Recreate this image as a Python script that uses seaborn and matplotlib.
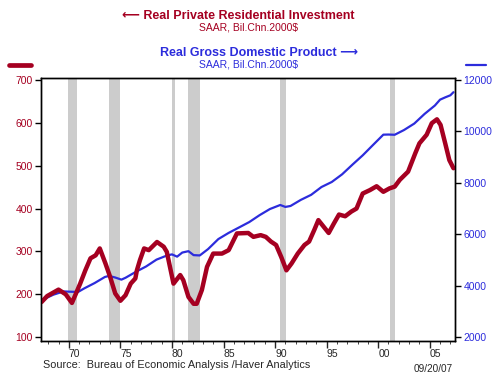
import numpy as np
import pandas as pd
import matplotlib
matplotlib.use("Agg")
import matplotlib.pyplot as plt
import seaborn as sns
from matplotlib.lines import Line2D

# Real private residential investment (left axis)
res_year = [1967.35, 1967.9, 1969.0, 1969.7, 1970.3, 1971.1, 1971.6, 1972.1, 1972.6, 1973.0,
            1973.55, 1974.0, 1974.5, 1975.0, 1975.5, 1976.0, 1976.45, 1976.6, 1976.9, 1977.3,
            1977.75, 1978.55, 1979.2, 1979.5, 1980.15, 1980.8, 1981.1, 1981.6, 1982.1, 1982.4,
            1982.9, 1983.4, 1984.0, 1984.85, 1985.5, 1986.3, 1987.4, 1987.9, 1988.6, 1989.1,
            1989.6, 1990.1, 1990.6, 1991.1, 1991.6, 1992.2, 1992.85, 1993.3, 1993.8, 1994.2,
            1994.7, 1995.2, 1995.7, 1996.2, 1996.8, 1997.4, 1997.9, 1998.5, 1999.2, 1999.85,
            2000.5, 2001.1, 2001.6, 2002.1, 2002.9, 2003.6, 2004.0, 2004.7, 2005.2, 2005.7,
            2006.05, 2006.5, 2006.9, 2007.3]
res_value = [182, 196, 211, 200, 180, 225, 256, 284, 291, 307,
             272, 241, 202, 185, 198, 225, 237, 256, 280, 307,
             303, 322, 311, 299, 225, 245, 233, 194, 178, 178,
             210, 264, 295, 295, 303, 342, 343, 334, 338, 334,
             323, 315, 287, 256, 272, 295, 315, 323, 350, 373,
             358, 343, 365, 386, 382, 393, 400, 435, 443, 452,
             439, 447, 451, 467, 486, 529, 552, 572, 599, 608,
             595, 552, 513, 494]

# Real GDP (right axis)
gdp_year = [1967.35, 1967.6, 1968.5, 1969.5, 1970.0, 1970.9, 1971.5, 1972.5, 1973.5, 1973.9,
            1974.5, 1975.1, 1975.5, 1976.5, 1977.5, 1978.5, 1979.5, 1980.0, 1980.5, 1981.0,
            1981.6, 1982.1, 1982.7, 1983.5, 1984.5, 1985.5, 1986.5, 1987.5, 1988.5, 1989.5,
            1990.5, 1991.0, 1991.5, 1992.5, 1993.5, 1994.5, 1995.5, 1996.5, 1997.5, 1998.5,
            1999.5, 2000.5, 2001.0, 2001.6, 2002.5, 2003.5, 2004.5, 2005.5, 2006.0, 2006.5,
            2007.0, 2007.3]
gdp_value = [3470, 3485, 3653, 3780, 3770, 3760, 3899, 4105, 4342, 4382,
             4320, 4238, 4311, 4541, 4751, 5015, 5173, 5219, 5131, 5290,
             5344, 5190, 5178, 5424, 5814, 6054, 6264, 6475, 6743, 6981,
             7138, 7063, 7100, 7337, 7533, 7836, 8032, 8329, 8704, 9067,
             9470, 9870, 9875, 9866, 10049, 10301, 10676, 11003, 11230, 11319,
             11400, 11520]

recessions = [(1969.95, 1970.75), (1973.85, 1975.0), (1980.0, 1980.33),
              (1981.55, 1982.7), (1990.5, 1991.05), (2001.15, 2001.65)]

tick_years = [1970, 1975, 1980, 1985, 1990, 1995, 2000, 2005]
tick_labels = ["70", "75", "80", "85", "90", "95", "00", "05"]

red = "#A50021"
blue = "#2C2CDC"

sns.set_style("white")
plt.rcParams["font.family"] = ["Liberation Sans", "DejaVu Sans"]

res_df = pd.DataFrame({"year": res_year, "value": res_value})
gdp_df = pd.DataFrame({"year": gdp_year, "value": gdp_value})

fig = plt.figure(figsize=(5, 3.79), dpi=100)
ax = fig.add_axes([0.082, 0.10, 0.828, 0.695])
ax2 = ax.twinx()

# bands + blue on the right axis, red drawn on top
for a, b in recessions:
    ax2.axvspan(a, b, color="#CCCCCC", lw=0, zorder=0)
sns.lineplot(data=gdp_df, x="year", y="value", ax=ax2, color=blue, lw=1.6,
             estimator=None, sort=False)
sns.lineplot(data=res_df, x="year", y="value", ax=ax, color=red, lw=3.2,
             estimator=None, sort=False, solid_capstyle="round")
ax.set_zorder(ax2.get_zorder() + 1)
ax.patch.set_visible(False)

ax.set_xlim(1967.3, 2007.45)
ax.set_ylim(91, 705)
ax2.set_ylim(2000 + (91 - 100) * 50 / 3, 2000 + (705 - 100) * 50 / 3)

ax.set_yticks(range(100, 701, 100))
ax2.set_yticks(range(2000, 12001, 2000))
ax.set_xticks(tick_years)
ax.set_xticklabels(tick_labels, ha="left")
ax.set_xticks(range(1968, 2008), minor=True)
ax.set_xlabel("")
ax.set_ylabel("")
ax2.set_xlabel("")
ax2.set_ylabel("")

for s in ax.spines.values():
    s.set_color("black")
    s.set_linewidth(1.0)
for s in ax2.spines.values():
    s.set_color("black")
    s.set_linewidth(1.0)

ax.tick_params(axis="y", direction="out", length=4, width=1, colors="black",
               labelcolor=red, labelsize=7.5, pad=2, left=True)
ax2.tick_params(axis="y", direction="out", length=4, width=1, colors="black",
                labelcolor=blue, labelsize=7.5, pad=2, right=True)
ax.tick_params(axis="x", which="major", direction="out", length=5, width=1,
               labelsize=7.5, pad=1, bottom=True)
ax.tick_params(axis="x", which="minor", direction="out", length=2, width=0.6, bottom=True)

# titles
fig.text(0.477, 1 - 16 / 379, "\u27f5 Real Private Residential Investment", color=red,
         fontsize=9, fontweight="bold", ha="center", va="center")
fig.text(0.497, 1 - 28 / 379, "SAAR, Bil.Chn.2000$", color=red, fontsize=7.5,
         ha="center", va="center")
fig.text(0.518, 1 - 53 / 379, "Real Gross Domestic Product \u27f6", color=blue,
         fontsize=9, fontweight="bold", ha="center", va="center")
fig.text(0.497, 1 - 64.5 / 379, "SAAR, Bil.Chn.2000$", color=blue, fontsize=7.5,
         ha="center", va="center")

# legend swatches
fig.add_artist(Line2D([9 / 500, 31 / 500], [1 - 64.5 / 379] * 2, color=red, lw=3.4,
                      solid_capstyle="round"))
fig.add_artist(Line2D([466 / 500, 486 / 500], [1 - 64.5 / 379] * 2, color=blue, lw=1.6))

# footer
fig.text(43 / 500, 1 - 365 / 379, "Source:  Bureau of Economic Analysis /Haver Analytics",
         fontsize=7.8, ha="left", va="center")
fig.text(453 / 500, 1 - 369 / 379, "09/20/07", fontsize=7.2, ha="right", va="center")

fig.savefig("out.png", dpi=100)
